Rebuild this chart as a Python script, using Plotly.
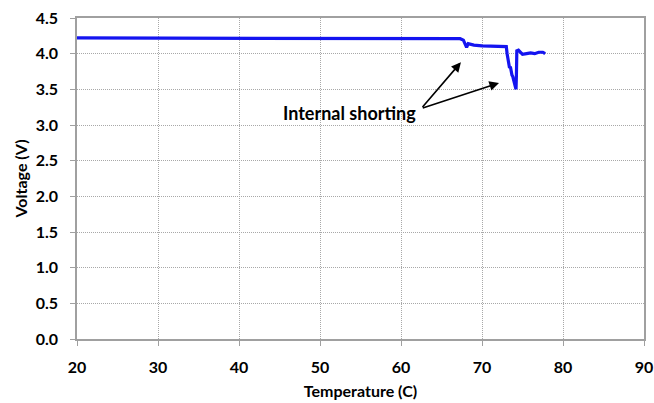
import plotly.graph_objects as go

temperature = [20, 30, 40, 50, 60, 66.5, 67.3, 67.7, 67.9, 68.1, 68.3, 68.6, 69, 70, 71, 72, 72.8,
               73.0, 73.1, 73.2, 73.3, 73.4, 73.5, 73.6, 73.7, 73.8, 73.9, 74.0, 74.1, 74.2,
               74.25, 74.3, 74.5, 74.7, 75, 75.5, 76, 76.5, 77, 77.5, 77.8]
voltage = [4.22, 4.22, 4.22, 4.22, 4.22, 4.22, 4.21, 4.19, 4.15, 4.09, 4.14, 4.13, 4.12, 4.11, 4.11, 4.11, 4.11,
           4.10, 4.00, 3.92, 3.85, 3.80, 3.82, 3.74, 3.70, 3.68, 3.62, 3.58, 3.52, 3.50,
           3.70, 4.04, 4.05, 4.02, 3.99, 4.00, 4.01, 4.00, 4.02, 4.02, 4.00]

x_ticks = [20, 30, 40, 50, 60, 70, 80, 90]
y_ticks = [0.0, 0.5, 1.0, 1.5, 2.0, 2.5, 3.0, 3.5, 4.0, 4.5]

label_text = "Internal shorting"
label_pos = (53.6, 3.17)
arrow_tail = (62.5, 3.23)
arrow_heads = [(67.4, 3.88), (72.1, 3.59)]

FONT = "Lato"

fig = go.Figure()
fig.add_trace(go.Scatter(x=temperature, y=voltage, mode="lines",
                         line=dict(color="#1414f0", width=3.2), showlegend=False))

fig.add_annotation(x=label_pos[0], y=label_pos[1], text="<b>" + label_text + "</b>",
                   showarrow=False, font=dict(family=FONT, size=18, color="#000000"))
for hx, hy in arrow_heads:
    fig.add_annotation(x=hx, y=hy, ax=arrow_tail[0], ay=arrow_tail[1],
                       xref="x", yref="y", axref="x", ayref="y",
                       text="", showarrow=True, arrowhead=2, arrowsize=1.2,
                       arrowwidth=1.6, arrowcolor="#000000")

axis_common = dict(
    showgrid=True, gridcolor="#a8a8a8", griddash="1px,1px", gridwidth=1,
    showline=True, linecolor="#a0a0a0", linewidth=1.5, mirror=True,
    ticks="outside", tickcolor="#a0a0a0", ticklen=5,
    tickfont=dict(family=FONT, size=16, color="#000000"),
    zeroline=False, automargin=False,
)

fig.update_xaxes(range=[20, 90], tickvals=x_ticks, ticktext=[f"<b>{v}</b>" for v in x_ticks],
                 ticklabelstandoff=8,
                 title=dict(text="<b>Temperature (C)</b>", font=dict(family=FONT, size=16, color="#000"),
                            standoff=11),
                 **axis_common)
fig.update_yaxes(range=[0, 4.5], tickvals=y_ticks, ticktext=[f"<b>{v:.1f}</b>" for v in y_ticks],
                 ticklabelstandoff=9,
                 title=dict(text="<b>Voltage (V)</b>", font=dict(family=FONT, size=16, color="#000"),
                            standoff=4),
                 **axis_common)

fig.update_layout(
    width=654, height=403,
    margin=dict(l=77, r=10, t=18, b=64),
    paper_bgcolor="white", plot_bgcolor="white",
    font=dict(family=FONT),
)

fig.write_html("out.html", config={"displayModeBar": False},
               post_script="document.body.style.margin='0';document.body.style.overflow='hidden';")
